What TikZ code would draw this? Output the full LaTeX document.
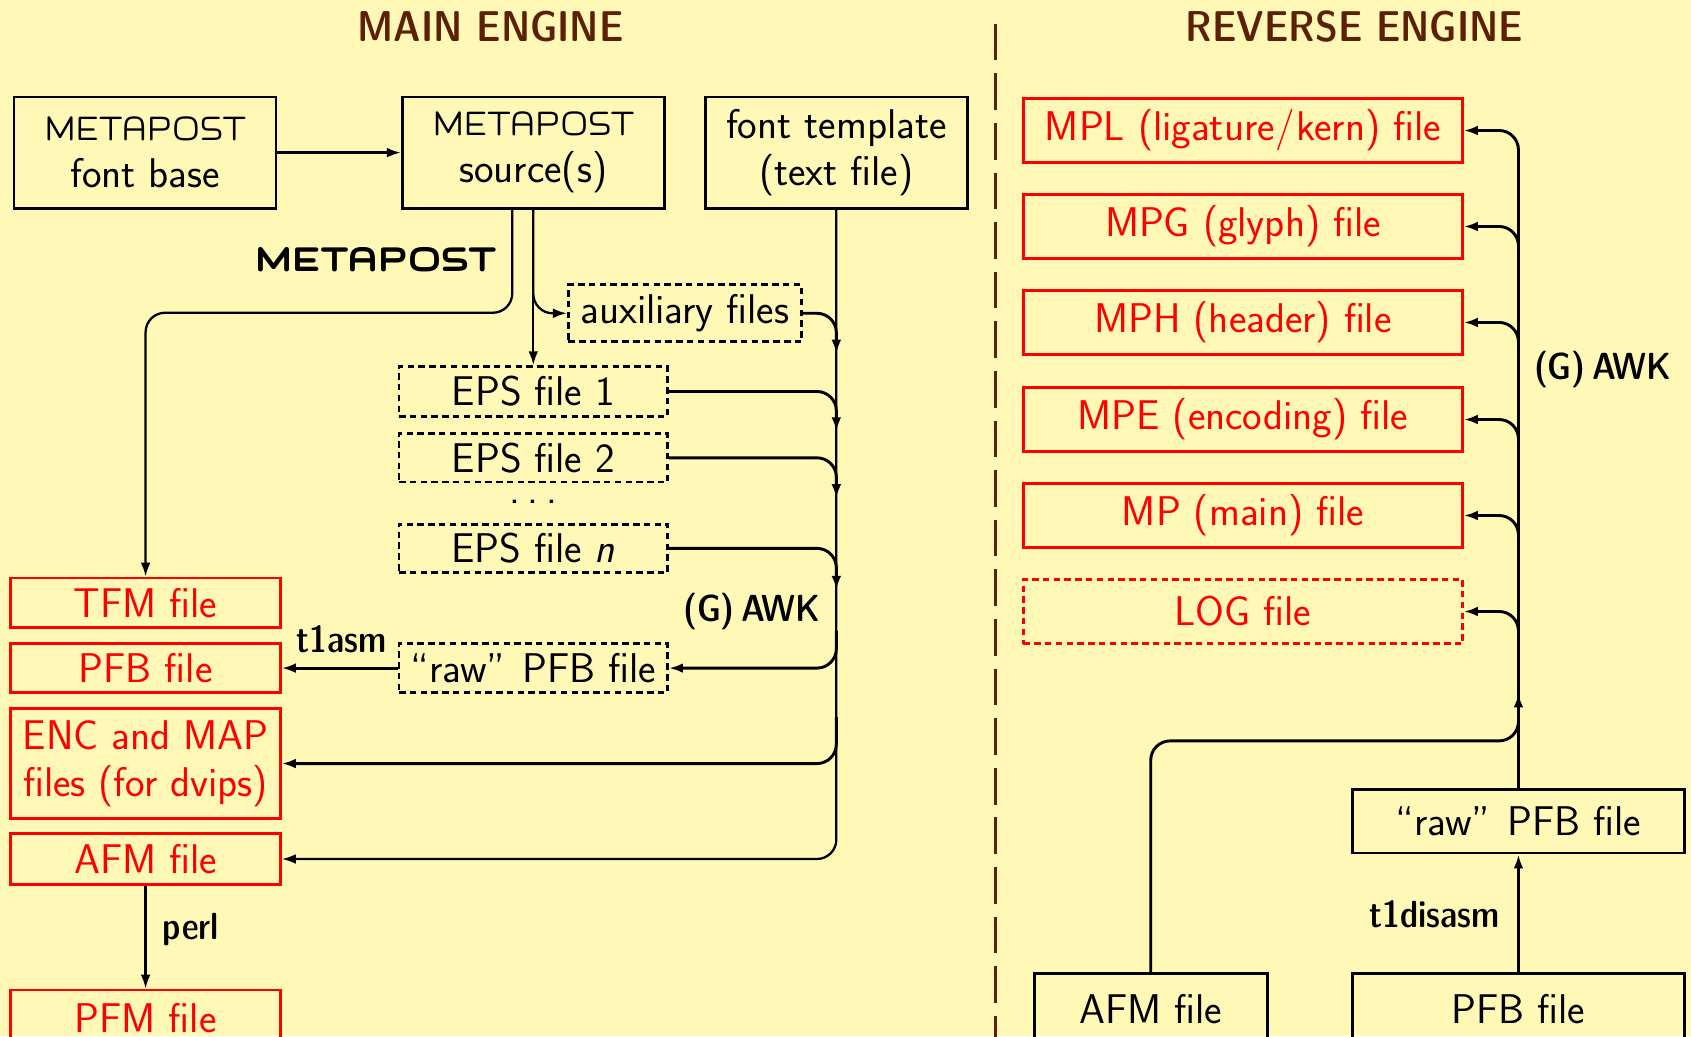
\documentclass[tikz,border=0pt]{standalone}
\usetikzlibrary{arrows.meta}
\definecolor{bg}{RGB}{255,248,183}
\definecolor{brn}{RGB}{92,32,6}
\font\mplogo=logo10 at 36pt
\font\mplogobf=logobf10 at 36.5pt
\newcommand\boxfont{\sffamily\fontsize{38.5}{44}\selectfont}
\newcommand\lblfont{\sffamily\fontseries{sbc}\fontsize{35}{42}\selectfont}
\newcommand\ttlfont{\sffamily\fontseries{sbc}\fontsize{40}{48}\selectfont}
\tikzset{
  x=1pt, y=-1pt,
  box/.style={draw=black, line width=2.6pt, inner sep=0pt, align=center, font=\boxfont},
  redbox/.style={box, draw=red, text=red},
  dbox/.style={box, dash pattern=on 6pt off 4pt},
  dredbox/.style={redbox, dash pattern=on 6pt off 4pt},
  conn/.style={line width=2.7pt, -{Latex[length=13pt,width=9pt]}, rounded corners=18pt},
  thinconn/.style={line width=2.1pt, -{Latex[length=13pt,width=9pt]}, rounded corners=18pt},
  lbl/.style={font=\lblfont, inner sep=0pt},
  ttl/.style={font=\ttlfont, text=brn, inner sep=0pt},
}
\begin{document}
\begin{tikzpicture}
\fill[bg] (0,0) rectangle (1568,961);
\useasboundingbox (0,0) rectangle (1568,961);

% titles and separator
\node[ttl] (t1) at (455,25) {MAIN ENGINE};
\node[ttl] (t2) at (1256,25) {REVERSE ENGINE};
\coordinate (s1) at (923,22);
\coordinate (s2) at (923,975);
\draw[brn, line width=3.2pt, dash pattern=on 34pt off 12pt] (s1) -- (s2);

% ---------- main engine ----------
\node[box, minimum width=243pt, minimum height=103pt] (fb) at (134.5,141.5) {{\mplogo METAPOST}\\font base};
\node[box, minimum width=243pt, minimum height=103pt] (src) at (494.5,141.5) {{\mplogo METAPOST}\\source(s)};
\node[box, minimum width=243pt, minimum height=103pt] (tpl) at (775.5,141.5) {font template\\(text file)};

\node[dbox, minimum width=216pt, minimum height=53pt] (aux) at (635,290.5) {auxiliary files};
\node[dbox, minimum width=249pt, minimum height=46pt] (eps1) at (494.5,363) {EPS file 1};
\node[dbox, minimum width=249pt, minimum height=45pt] (eps2) at (494.5,424.5) {EPS file 2};
\node[font=\boxfont, inner sep=0pt] (dots) at (494.5,465) {.\hspace{7pt}.\hspace{7pt}.};
\node[dbox, minimum width=249pt, minimum height=45pt] (epsn) at (494.5,508.5) {EPS file \textit{n}};
\node[dbox, minimum width=249pt, minimum height=45pt] (raw) at (494.5,619.5) {``raw''\hspace{4pt} PFB file};

\node[redbox, minimum width=250pt, minimum height=46pt] (tfm) at (135,559) {TFM file};
\node[redbox, minimum width=250pt, minimum height=45pt] (pfb) at (135,619.5) {PFB file};
\node[redbox, minimum width=250pt, minimum height=102pt] (enc) at (135,708) {ENC and MAP\\files (for dvips)};
\node[redbox, minimum width=250pt, minimum height=47pt] (afm) at (135,796.5) {AFM file};
\node[redbox, minimum width=250pt, minimum height=52pt] (pfm) at (135,944) {PFM file};

\node[lbl, anchor=east] (mplbl) at (460,241) {\mplogobf METAPOST};
\node[lbl] (awk1) at (697,567) {(G)\,AWK};
\node[lbl] (t1asm) at (317,593) {t1asm};
\node[lbl] (perl) at (177,862) {perl};

\draw[thinconn] (fb.east) -- (src.west);
\coordinate (bendA) at (475,290);
\draw[thinconn] (src.south -| bendA) -- (bendA) -| (tfm.north);
\draw[thinconn] (src.south) -- (eps1.north);
\draw[thinconn] (src.south) |- (aux.west);
\coordinate (a1) at (775.5,328);
\coordinate (a2) at (775.5,400);
\coordinate (a3) at (775.5,462);
\coordinate (a4) at (775.5,547);
\coordinate (b1) at (775.5,585);
\coordinate (b2) at (775.5,665);
\draw[thinconn] (tpl.south) |- (afm.east);
\draw[conn] (aux.east) -| (a1);
\draw[conn] (eps1.east) -| (a2);
\draw[conn] (eps2.east) -| (a3);
\draw[conn] (epsn.east) -| (a4);
\draw[conn] (b1) |- (raw.east);
\draw[conn] (b2) |- (enc.east);
\draw[conn] (raw.west) -- (pfb.east);
\draw[thinconn] (afm.south) -- (pfm.north);

% ---------- reverse engine ----------
\node[redbox, minimum width=407pt, minimum height=60pt] (mpl) at (1152.5,121) {MPL (ligature\kern1pt/\kern1pt kern) file};
\node[redbox, minimum width=407pt, minimum height=60pt] (mpg) at (1152.5,210) {MPG (glyph) file};
\node[redbox, minimum width=407pt, minimum height=60pt] (mph) at (1152.5,299) {MPH (header) file};
\node[redbox, minimum width=407pt, minimum height=60pt] (mpe) at (1152.5,389) {MPE (encoding) file};
\node[redbox, minimum width=407pt, minimum height=60pt] (mp) at (1152.5,478) {MP (main) file};
\node[dredbox, minimum width=407pt, minimum height=60pt] (log) at (1152.5,567) {LOG file};

\node[box, minimum width=308pt, minimum height=59pt] (rraw) at (1408,761.5) {``raw''\hspace{4pt} PFB file};
\node[box, minimum width=308pt, minimum height=66pt] (rpfb) at (1408,936) {PFB file};
\node[box, minimum width=216pt, minimum height=66pt] (rafm) at (1067,936) {AFM file};

\node[lbl] (awk2) at (1486,343) {(G)\,AWK};
\node[lbl] (t1dis) at (1330,848) {t1disasm};

\coordinate (c2) at (1408,250);
\coordinate (c3) at (1408,339);
\coordinate (c4) at (1408,429);
\coordinate (c5) at (1408,518);
\coordinate (c6) at (1408,607);
\draw[conn] (rraw.north) |- (mpl.east);
\draw[conn] (c2) |- (mpg.east);
\draw[conn] (c3) |- (mph.east);
\draw[conn] (c4) |- (mpe.east);
\draw[conn] (c5) |- (mp.east);
\draw[conn] (c6) |- (log.east);
\coordinate (d1) at (1408,687);
\coordinate (d2) at (1408,643);
\draw[conn] (rafm.north) |- (d1) -- (d2);
\draw[conn] (rpfb.north) -- (rraw.south);
\end{tikzpicture}
\end{document}
